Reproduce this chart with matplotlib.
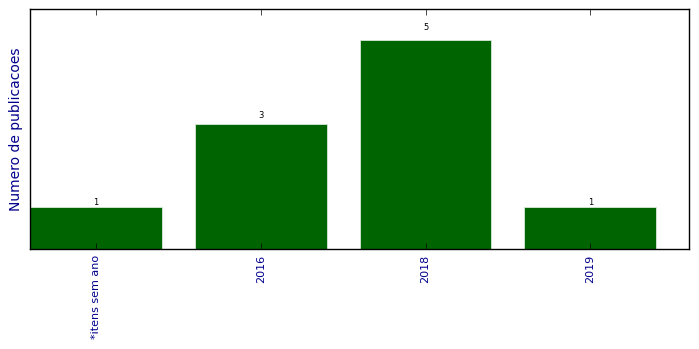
import matplotlib
matplotlib.use("Agg")
import matplotlib.pyplot as plt

# dados do grafico
anos = ['*itens sem ano', '2016', '2018', '2019']
publicacoes = [1, 3, 5, 1]

plt.style.use('classic')
fig = plt.figure(figsize=(6.99, 3.49), dpi=100)
ax = fig.add_axes([0.043, 0.2865, 0.943, 0.6875])

pos = list(range(len(anos)))
barras = ax.bar(pos, publicacoes, width=0.8, align='center',
                color='darkgreen', edgecolor='#d8e8d8', linewidth=0.6)

# rotulos acima das barras
for b, v in zip(barras, publicacoes):
    ax.text(b.get_x() + b.get_width() / 2, v * 1.05, str(v),
            ha='center', va='baseline', fontsize=6)

ax.set_xlim(-0.4, 3.6)
ax.set_ylim(0, max(publicacoes) * 1.15)
ax.set_xticks(pos)
ax.set_xticklabels(anos, rotation=90, fontsize=8, color='darkblue')
ax.set_yticks([])
ax.set_ylabel('Numero de publicacoes', fontsize=10, color='darkblue')

fig.savefig('out.png', dpi=100)
